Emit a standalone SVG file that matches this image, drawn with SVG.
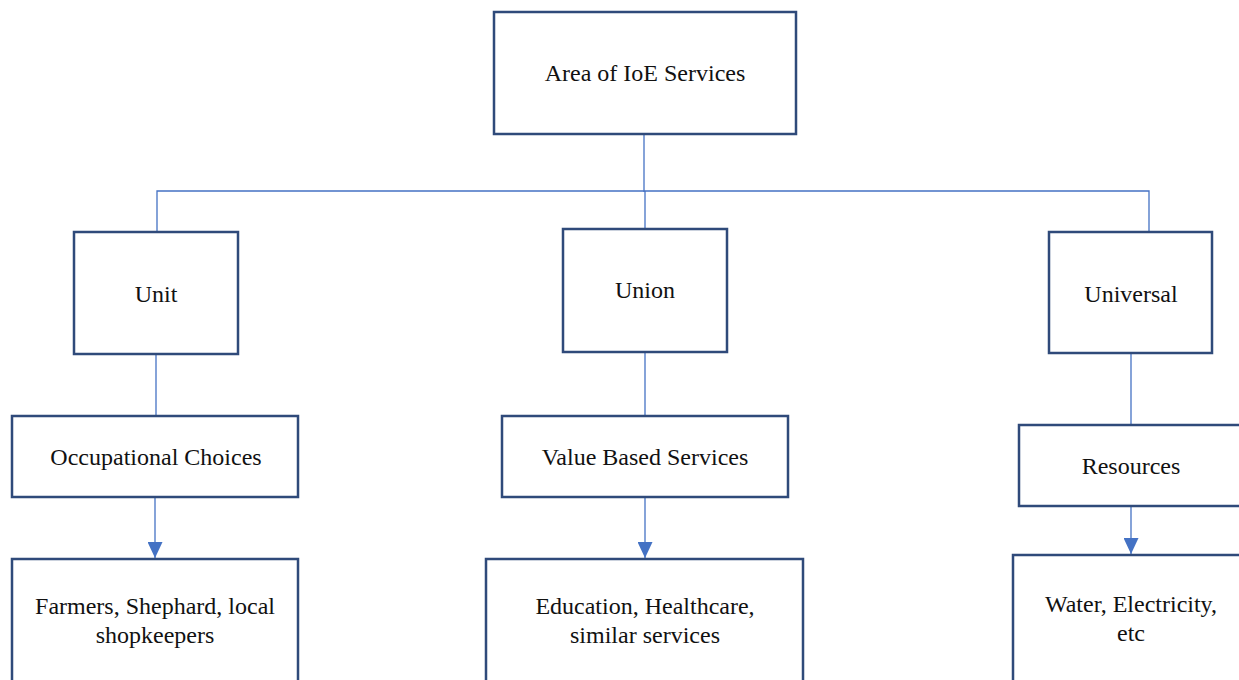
<svg xmlns="http://www.w3.org/2000/svg" width="1239" height="680" viewBox="0 0 1239 680">
<style>
.box{fill:#fff;stroke:#2F4A7A;stroke-width:2.5}
.t{font-family:"Liberation Serif","Times New Roman",serif;font-size:24px;fill:#111;text-anchor:middle}
.c{fill:none;stroke:#4472C4;stroke-width:1.3}
</style>
<defs>
<marker id="ah" viewBox="0 0 16 15" refX="16" refY="7.5" markerWidth="16" markerHeight="15" markerUnits="userSpaceOnUse" orient="auto">
<path d="M0,0 L16,7.5 L0,15 Z" fill="#4472C4"/>
</marker>
</defs>
<rect width="1239" height="680" fill="#fff"/>
<g id="connectors">
<path class="c" d="M644,134 V192"/>
<path class="c" d="M157,232 V191 H1149 V232"/>
<path class="c" d="M645,191 V229"/>
<path class="c" d="M156,354 V416"/>
<path class="c" d="M645,352 V416"/>
<path class="c" d="M1131,353 V425"/>
<path class="c" d="M155,497 V558" marker-end="url(#ah)"/>
<path class="c" d="M645,497 V558" marker-end="url(#ah)"/>
<path class="c" d="M1131,506 V554" marker-end="url(#ah)"/>
</g>
<g id="n-area"><rect class="box" x="494" y="12" width="302" height="122"/><text class="t" x="645" y="81">Area of IoE Services</text></g>
<g id="n-unit"><rect class="box" x="74" y="232" width="164" height="122"/><text class="t" x="156" y="302">Unit</text></g>
<g id="n-union"><rect class="box" x="563" y="229" width="164" height="123"/><text class="t" x="645" y="298">Union</text></g>
<g id="n-universal"><rect class="box" x="1049" y="232" width="163" height="121"/><text class="t" x="1131" y="302">Universal</text></g>
<g id="n-occupational"><rect class="box" x="12" y="416" width="286" height="81"/><text class="t" x="156" y="465">Occupational Choices</text></g>
<g id="n-value"><rect class="box" x="502" y="416" width="286" height="81"/><text class="t" x="645" y="465">Value Based Services</text></g>
<g id="n-resources"><rect class="box" x="1019" y="425" width="240" height="81"/><text class="t" x="1131" y="474">Resources</text></g>
<g id="n-farmers"><rect class="box" x="12" y="559" width="286" height="140"/><text class="t" x="155" y="614">Farmers, Shephard, local</text><text class="t" x="155" y="643">shopkeepers</text></g>
<g id="n-education"><rect class="box" x="486" y="559" width="317" height="140"/><text class="t" x="645" y="614">Education, Healthcare,</text><text class="t" x="645" y="643">similar services</text></g>
<g id="n-water"><rect class="box" x="1013" y="555" width="240" height="140"/><text class="t" x="1131" y="612">Water, Electricity,</text><text class="t" x="1131" y="641">etc</text></g>
</svg>
